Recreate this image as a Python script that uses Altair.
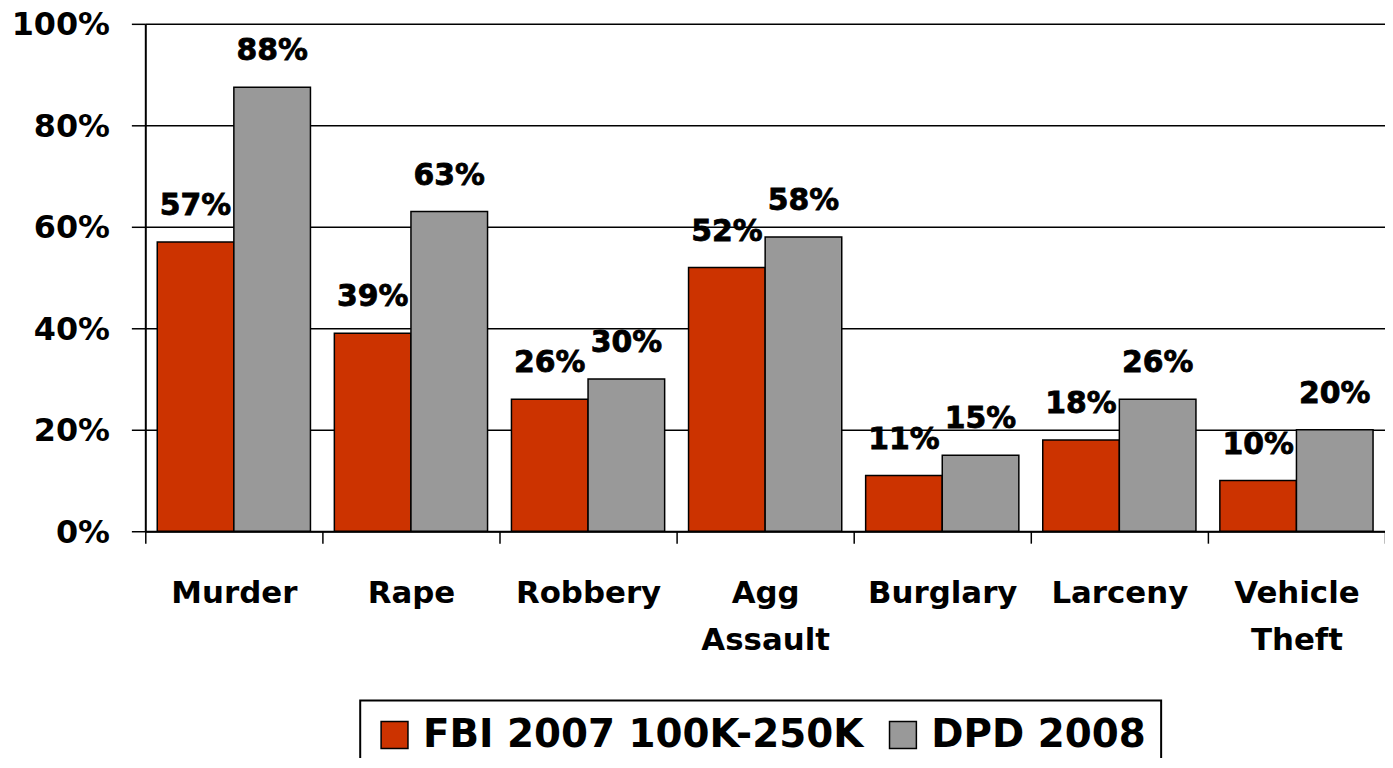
import altair as alt
import pandas as pd

categories = ["Murder", "Rape", "Robbery", "Agg Assault", "Burglary", "Larceny", "Vehicle Theft"]
series = ["FBI 2007 100K-250K", "DPD 2008"]
fbi_2007 = [0.57, 0.39, 0.26, 0.52, 0.11, 0.18, 0.10]
dpd_2008 = [0.875, 0.63, 0.30, 0.58, 0.15, 0.26, 0.20]
colors = ["#CC3300", "#999999"]

rows = []
for c, a, b in zip(categories, fbi_2007, dpd_2008):
    rows.append({"cat": c, "series": series[0], "value": a})
    rows.append({"cat": c, "series": series[1], "value": b})
df = pd.DataFrame(rows)

FONT = "DejaVu Sans"

label_expr = ("datum.label == 'Agg Assault' ? ['Agg', 'Assault'] : "
              "datum.label == 'Vehicle Theft' ? ['Vehicle', 'Theft'] : datum.label")

x = alt.X("cat:N", sort=categories, title=None,
          scale=alt.Scale(paddingInner=0, paddingOuter=0),
          axis=alt.Axis(labelAngle=0, labelFont=FONT, labelFontWeight="bold",
                        labelFontSize=31, labelColor="black", labelPadding=36,
                        labelBaseline="top", labelLineHeight=47,
                        labelExpr=label_expr, labelLimit=400,
                        tickBand="extent", tickSize=12, tickColor="black", tickWidth=1.5,
                        domainColor="black", domainWidth=2, grid=False))
y = alt.Y("value:Q", title=None,
          scale=alt.Scale(domain=[0, 1], nice=False),
          axis=alt.Axis(values=[0, 0.2, 0.4, 0.6, 0.8, 1.0], format=".0%",
                        labelFont=FONT, labelFontWeight="bold", labelFontSize=32,
                        labelColor="black", labelPadding=22,
                        labelBaseline="alphabetic", labelOffset=11,
                        tickSize=14, tickColor="black", tickWidth=1.5,
                        domainColor="black", domainWidth=2,
                        grid=True, gridColor="black", gridWidth=1.5, gridOpacity=1))
xoff = alt.XOffset("series:N", sort=series,
                   scale=alt.Scale(paddingInner=0, paddingOuter=0.156))
color = alt.Color("series:N", sort=series, title=None,
                  scale=alt.Scale(domain=series, range=colors),
                  legend=alt.Legend(orient="none", legendX=216, legendY=680,
                                    direction="horizontal", symbolType="square",
                                    symbolSize=729, symbolStrokeColor="black",
                                    symbolStrokeWidth=1.5, symbolOpacity=1,
                                    labelFont=FONT, labelFontWeight="bold",
                                    labelFontSize=39, labelColor="black",
                                    labelOffset=9, columnPadding=20,
                                    labelLimit=800,
                                    padding=15, strokeColor="black",
                                    fillColor="white"))

bars = alt.Chart(df).mark_bar(stroke="black", strokeWidth=1.5, opacity=1).encode(
    x=x, y=y, xOffset=xoff, color=color)

labels = alt.Chart(df).mark_text(dy=-27, baseline="alphabetic", align="center",
                                 font=FONT, fontWeight="bold", fontSize=30,
                                 color="black", stroke="black", strokeWidth=0.8).encode(
    x=alt.X("cat:N", sort=categories), y="value:Q", xOffset=xoff,
    text=alt.Text("value:Q", format=".0%"))

chart = (bars + labels).properties(
    width=1246, height=510,
    autosize=alt.AutoSizeParams(type="none"),
    padding={"left": 138, "top": 14, "right": 0, "bottom": 226},
    background="white",
).configure_view(stroke=None).configure_legend(strokeWidth=2, cornerRadius=0)

chart.save("out.html", embed_options={"renderer": "svg", "actions": False})
